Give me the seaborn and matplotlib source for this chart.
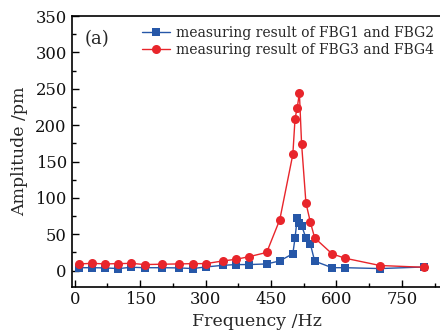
import matplotlib
matplotlib.use("Agg")
import matplotlib.pyplot as plt
import seaborn as sns
import pandas as pd
from matplotlib.ticker import MultipleLocator

sns.set_theme(style="white")
plt.rcParams['font.family'] = ['DejaVu Serif']
plt.rcParams['mathtext.fontset'] = 'dejavuserif'

freq_blue = [10, 40, 70, 100, 130, 160, 200, 240, 270, 300, 340, 370, 400, 440, 470, 500,
             505, 510, 515, 520, 530, 540, 550, 590, 620, 700, 800]
amp_blue = [4, 4, 3.7, 2.8, 4.6, 4, 4, 3.7, 2.8, 5, 7.3, 8.3, 8.3, 9.2, 13.3, 23.3,
            45, 72, 65, 62, 45, 37, 13, 4, 4, 2.8, 5]
freq_red = [10, 40, 70, 100, 130, 160, 200, 240, 270, 300, 340, 370, 400, 440, 470, 500,
            505, 510, 515, 520, 530, 540, 550, 590, 620, 700, 800]
amp_red = [9.2, 10, 9.2, 9.6, 10, 8.3, 8.8, 9.2, 9.6, 9.6, 13.3, 15.6, 19.2, 25, 70, 160,
           209, 224, 244, 174.5, 93, 67, 45, 23, 17, 7, 4.6]
label_blue = "measuring result of FBG1 and FBG2"
label_red = "measuring result of FBG3 and FBG4"

fig = plt.figure(figsize=(4.4, 3.36), dpi=100)
ax = fig.add_axes([0.163, 0.147, 0.8416, 0.805])

blue = "#2657a8"
red = "#e8252b"
sns.lineplot(x=freq_blue, y=amp_blue, ax=ax, sort=False, color=blue, lw=1.0,
             marker="s", markersize=5.5, markeredgewidth=0, label=label_blue)
sns.lineplot(x=freq_red, y=amp_red, ax=ax, sort=False, color=red, lw=1.0,
             marker="o", markersize=6.5, markeredgewidth=0, label=label_red)

ax.set_xlim(-7, 842)
ax.set_ylim(-22, 350)
ax.xaxis.set_major_locator(MultipleLocator(150))
ax.xaxis.set_minor_locator(MultipleLocator(75))
ax.yaxis.set_major_locator(MultipleLocator(50))
ax.yaxis.set_minor_locator(MultipleLocator(25))
ax.tick_params(which="both", direction="in", top=False, right=False, left=True, bottom=True,
               color="black", width=1.0)
ax.tick_params(which="major", length=5, labelsize=11.8, pad=3.5, labelcolor="#111111")
ax.tick_params(which="minor", length=3)
for s in ax.spines.values():
    s.set_color("black")
    s.set_linewidth(1.2)
ax.spines["right"].set_visible(False)

ax.set_xlabel("Frequency /Hz", fontsize=12.5, labelpad=3)
ax.set_ylabel("Amplitude /pm", fontsize=12.5, labelpad=5)
ax.text(0.035, 0.95, "(a)", transform=ax.transAxes, fontsize=13, va="top", ha="left")
ax.legend(loc="upper right", bbox_to_anchor=(1.0, 0.995), frameon=False, fontsize=10,
          handlelength=2.0, handletextpad=0.4, labelspacing=0.2, borderaxespad=0.2)

fig.savefig("out.png", dpi=100)
